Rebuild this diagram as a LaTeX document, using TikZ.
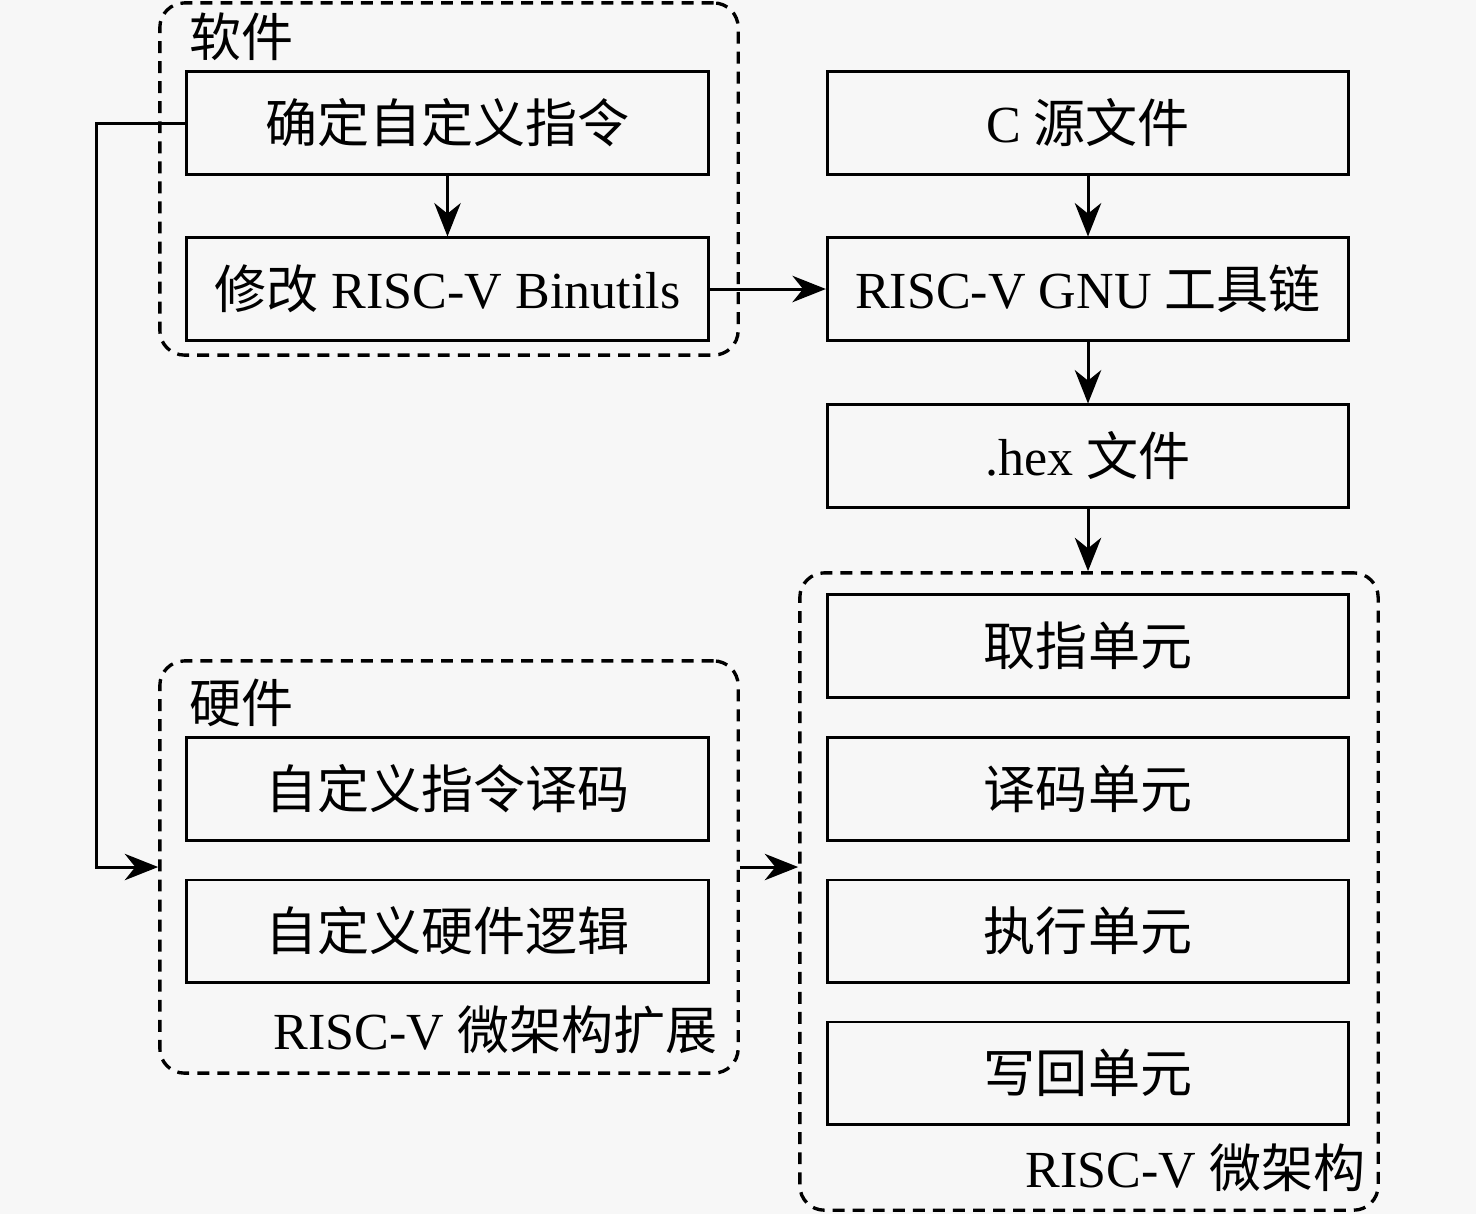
\documentclass[tikz,border=0pt]{standalone}
\usepackage{fontspec}
\setmainfont{Liberation Serif}
\newfontfamily\cjk{Noto Sans CJK SC}
\usetikzlibrary{arrows.meta}

\tikzset{
  unit/.style={draw,line width=0.85pt,minimum width=5.21cm,minimum height=1.02cm,inner sep=0pt},
  group/.style={draw,line width=0.95pt,dash pattern=on 3.4pt off 2.3pt,rounded corners=7pt,minimum width=5.78cm,inner sep=0pt},
  lbl/.style={inner sep=0pt},
  arr/.style={-{Stealth[length=9.5pt,width=7.5pt,inset=3pt]},line width=0.85pt}
}

\begin{document}
\begin{tikzpicture}[x=0.01cm,y=-0.01cm,font=\fontsize{14.8pt}{18pt}\selectfont]
  \fill[white!97!black] (0,0) rectangle (1476,1214);
  \useasboundingbox (0,0) rectangle (1476,1214);
  % software side
  \node[group,minimum height=3.52cm] (sw) at (449,179) {};
  \node[lbl,anchor=west] (swlbl) at (189,37) {\cjk 软件};
  \node[unit] (def) at (447.5,123) {\cjk 确定自定义指令};
  \node[unit] (bin) at (447.5,289) {{\cjk 修改} RISC-V Binutils};
  % toolchain
  \node[unit] (src) at (1088,123) {C {\cjk 源文件}};
  \node[unit] (gnu) at (1088,289) {RISC-V GNU {\cjk 工具链}};
  \node[unit] (hex) at (1088,456) {.hex {\cjk 文件}};
  % hardware side
  \node[group,minimum height=4.12cm] (hw) at (449,867) {};
  \node[lbl,anchor=west] (hwlbl) at (189,703) {\cjk 硬件};
  \node[unit] (dec) at (447.5,789) {\cjk 自定义指令译码};
  \node[unit] (logic) at (447.5,931) {\cjk 自定义硬件逻辑};
  \node[lbl,anchor=east] (hwname) at (718,1030) {RISC-V {\cjk 微架构扩展}};
  % micro-architecture
  \node[group,minimum height=6.37cm] (ua) at (1089,891.5) {};
  \node[unit] (fetch) at (1088,646) {\cjk 取指单元};
  \node[unit] (decode) at (1088,789) {\cjk 译码单元};
  \node[unit] (exec) at (1088,931) {\cjk 执行单元};
  \node[unit] (wb) at (1088,1073) {\cjk 写回单元};
  \node[lbl,anchor=east] (uaname) at (1366,1168) {RISC-V {\cjk 微架构}};
  % connectors
  \draw[arr] (def) -- (bin);
  \draw[arr] (bin.east) -- (gnu.west);
  \draw[arr] (src) -- (gnu);
  \draw[arr] (gnu) -- (hex);
  \draw[arr] (hex.south) -- (hex.south |- ua.north);
  \draw[arr] (def.west) -- ++(-89,0) |- (hw.west);
  \draw[arr] (hw.east) -- (hw.east -| ua.west);
\end{tikzpicture}
\end{document}
